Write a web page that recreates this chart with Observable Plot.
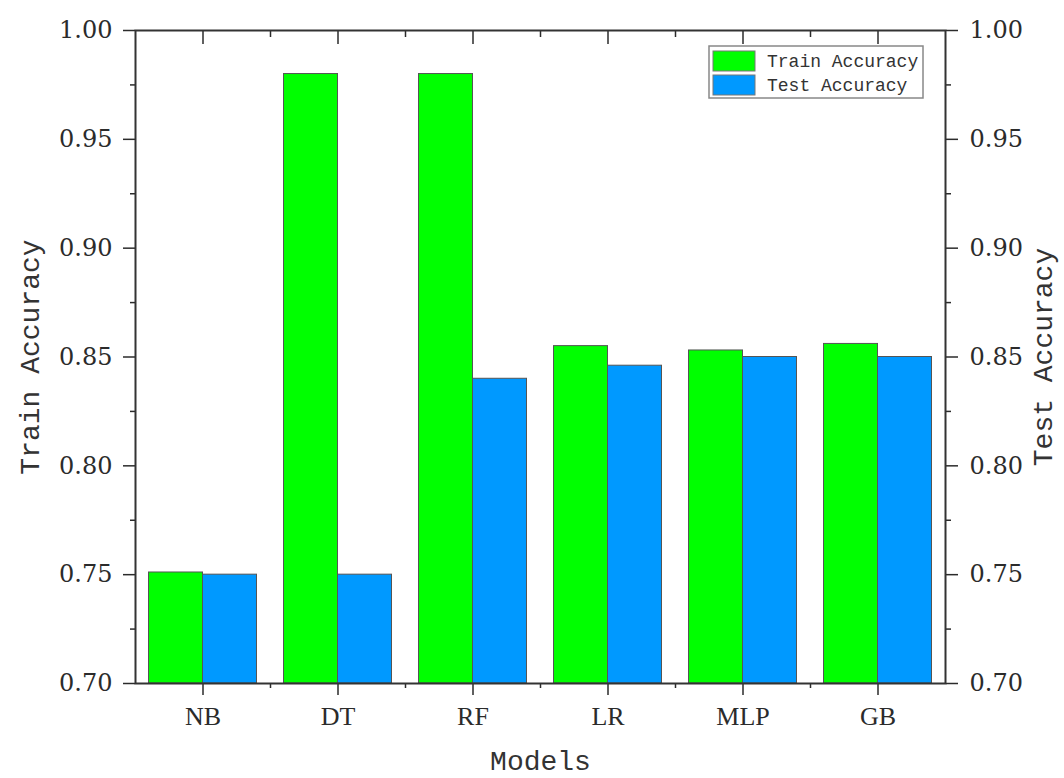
<!DOCTYPE html>
<html><head><meta charset="utf-8">
<script src="https://cdn.jsdelivr.net/npm/d3@7"></script>
<script src="https://cdn.jsdelivr.net/npm/@observablehq/plot@0.6"></script>
<style>body{margin:0;background:#fff}</style>
</head><body><div id="chart"></div>
<script>
const models = ["NB", "DT", "RF", "LR", "MLP", "GB"];
const trainAccuracy = [0.751, 0.980, 0.980, 0.855, 0.853, 0.856];
const testAccuracy = [0.750, 0.750, 0.840, 0.846, 0.850, 0.850];
const seriesNames = ["Train Accuracy", "Test Accuracy"];
const seriesColors = ["#00ff00", "#0099ff"];
const yTicks = [0.70, 0.75, 0.80, 0.85, 0.90, 0.95, 1.00];
const yMinorTicks = [0.725, 0.775, 0.825, 0.875, 0.925, 0.975];
const yLimits = [0.70, 1.00];
const xTitle = "Models";
const yLeftTitle = "Train Accuracy";
const yRightTitle = "Test Accuracy";

const half = 0.4;
const rows = models.flatMap((m, i) => [
  {model: m, series: seriesNames[0], value: trainAccuracy[i], x1: i - half, x2: i},
  {model: m, series: seriesNames[1], value: testAccuracy[i], x1: i, x2: i + half}
]);
const majorX = d3.range(models.length);
const minorX = d3.range(models.length - 1).map(i => i + 0.5);

const mono = "'Liberation Mono', 'DejaVu Sans Mono', monospace";
const serif = "'Liberation Serif', 'DejaVu Serif', serif";
const numSerif = "'DejaVu Serif', 'Liberation Serif', serif";

const chart = Plot.plot({
  width: 1064, height: 778,
  marginLeft: 135, marginRight: 119, marginTop: 30, marginBottom: 95,
  x: {domain: [-0.5, models.length - 0.5], label: null},
  y: {domain: yLimits, label: null},
  color: {domain: seriesNames, range: seriesColors},
  style: {fontFamily: serif, background: "white", color: "#2b2b2b"},
  marks: [
    Plot.rect(rows, {x1: "x1", x2: "x2", y1: yLimits[0], y2: "value", fill: "series", stroke: "#555", strokeWidth: 1}),
    Plot.axisY({anchor: "left", ticks: yTicks, tickSize: 12, tickPadding: 11, tickFormat: d => d.toFixed(2), fontSize: 24, fontFamily: numSerif, strokeWidth: 1.5, label: null}),
    Plot.axisY({anchor: "left", ticks: yMinorTicks, tickSize: 5, tickFormat: () => "", strokeWidth: 1.5, label: null}),
    Plot.axisY({anchor: "right", ticks: yTicks, tickSize: 12, tickPadding: 12, tickFormat: d => d.toFixed(2), fontSize: 24, fontFamily: numSerif, strokeWidth: 1.5, label: null}),
    Plot.axisY({anchor: "right", ticks: yMinorTicks, tickSize: 5, tickFormat: () => "", strokeWidth: 1.5, label: null}),
    Plot.axisX({anchor: "bottom", ticks: majorX, tickSize: 12, tickPadding: 11, tickFormat: i => models[i], fontSize: 26, letterSpacing: -1.5, strokeWidth: 1.5, label: null}),
    Plot.axisX({anchor: "bottom", ticks: minorX, tickSize: 5, tickFormat: () => "", strokeWidth: 1.5, label: null}),
    Plot.axisX({anchor: "top", ticks: majorX, tickSize: 13, dy: 13, tickFormat: () => "", strokeWidth: 1.5, label: null}),
    Plot.axisX({anchor: "top", ticks: minorX, tickSize: 6, dy: 6, tickFormat: () => "", strokeWidth: 1.5, label: null}),
    Plot.frame({stroke: "#333", strokeWidth: 2}),
    Plot.text([yLeftTitle], {frameAnchor: "left", rotate: -90, dx: -105, textAnchor: "middle", lineAnchor: "middle", fontSize: 28, fontFamily: mono, fill: "#333"}),
    Plot.text([yRightTitle], {frameAnchor: "right", rotate: -90, dx: 98, textAnchor: "middle", lineAnchor: "middle", fontSize: 28, fontFamily: mono, fill: "#333"}),
    Plot.text([xTitle], {frameAnchor: "bottom", dy: 86, lineAnchor: "bottom", fontSize: 28, fontFamily: mono, fill: "#333"})
  ]
});
document.getElementById("chart").appendChild(chart);

// Legend inside plot area (top-right)
const svg = d3.select(chart);
const lg = svg.append("g").attr("transform", "translate(709,46)");
lg.append("rect").attr("width", 214).attr("height", 52).attr("fill", "white").attr("stroke", "#888").attr("stroke-width", 1.5);
seriesNames.forEach((name, k) => {
  lg.append("rect").attr("x", 4).attr("y", 5 + k * 24).attr("width", 42).attr("height", 20)
    .attr("fill", seriesColors[k]).attr("stroke", "#777").attr("stroke-width", 1);
  lg.append("text").attr("x", 58).attr("y", 21 + k * 24).attr("text-anchor", "start")
    .attr("font-family", mono).attr("font-size", 18).attr("fill", "#333").text(name);
});
</script>
</body></html>
